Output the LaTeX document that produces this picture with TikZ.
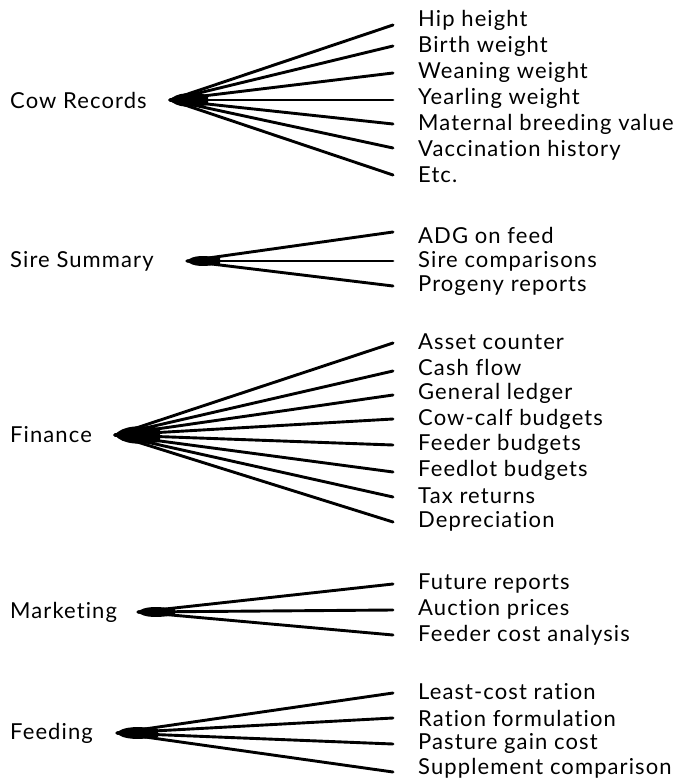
\documentclass[tikz,border=0pt]{standalone}
\usepackage{fontspec}
\setmainfont[LetterSpace=5,Ligatures=NoCommon]{Lato}
\begin{document}
\begin{tikzpicture}[x=1pt,y=-1pt,
  lab/.style={anchor=west,inner sep=0pt,font=\fontsize{22}{24}\selectfont},
  item/.style={anchor=west,inner sep=0pt,font=\fontsize{22}{24}\selectfont},
  spoke/.style={line width=2.9pt,line cap=round},
  hub/.style={fill=black}]
\useasboundingbox (0,0) rectangle (682,781);
% ---------- Cow Records
\node[lab] (cow) at (10,100) {Cow Records};
\coordinate (cowo) at (170,100);
\foreach \t/\y [count=\i] in {Hip height/20,Birth weight/46,Weaning weight/72,Yearling weight/98,Maternal breeding value/124,Vaccination history/150,Etc./175}
  \node[item] (cowi\i) at (418,\y) {\t};
\foreach \y [count=\i] in {25,46,73,100,124,148,175}
  \coordinate (cowe\i) at (393,\y);
\foreach \i in {1,...,7} \draw[spoke] (cowo) -- (cowe\i);
\fill[hub] (cowo) .. controls (176,92) and (192,92) .. (208,95) -- (208,105) .. controls (192,108) and (176,108) .. (cowo);
% ---------- Sire Summary
\node[lab] (sire) at (10,261) {Sire Summary};
\coordinate (sireo) at (187,261);
\foreach \t/\y [count=\i] in {ADG on feed/235,Sire comparisons/261,Progeny reports/286}
  \node[item] (sirei\i) at (418,\y) {\t};
\foreach \y [count=\i] in {232,261,286}
  \coordinate (siree\i) at (393,\y);
\foreach \i in {1,...,3} \draw[spoke] (sireo) -- (siree\i);
\fill[hub] (sireo) .. controls (192,255) and (205,255) .. (220,258) -- (220,264) .. controls (205,267) and (192,267) .. (sireo);
% ---------- Finance
\node[lab] (fin) at (10,435) {Finance};
\coordinate (fino) at (115,435);
\foreach \t/\y [count=\i] in {Asset counter/342,Cash flow/367,General ledger/393,Cow-calf budgets/419,Feeder budgets/444,Feedlot budgets/470,Tax returns/496,Depreciation/521}
  \node[item] (fini\i) at (418,\y) {\t};
\foreach \y [count=\i] in {343,371,395,419,445,472,497,522}
  \coordinate (fine\i) at (393,\y);
\foreach \i in {1,...,8} \draw[spoke] (fino) -- (fine\i);
\fill[hub] (fino) .. controls (122,425) and (142,425) .. (160,428) -- (160,442) .. controls (142,445) and (122,445) .. (fino);
% ---------- Marketing
\node[lab] (mkt) at (10,612) {Marketing};
\coordinate (mkto) at (138,612);
\foreach \t/\y [count=\i] in {Future reports/583,Auction prices/609,Feeder cost analysis/635}
  \node[item] (mkti\i) at (418,\y) {\t};
\foreach \y [count=\i] in {584,610,635}
  \coordinate (mkte\i) at (393,\y);
\foreach \i in {1,...,3} \draw[spoke] (mkto) -- (mkte\i);
\fill[hub] (mkto) .. controls (143,606) and (158,606) .. (175,609) -- (175,615) .. controls (158,618) and (143,618) .. (mkto);
% ---------- Feeding
\node[lab] (feed) at (10,733) {Feeding};
\coordinate (feedo) at (117,733);
\foreach \t/\y [count=\i] in {Least-cost ration/692,Ration formulation/718,Pasture gain cost/743,Supplement comparison/768}
  \node[item] (feedi\i) at (418,\y) {\t};
\foreach \y [count=\i] in {693,718,744,772}
  \coordinate (feede\i) at (393,\y);
\foreach \i in {1,...,4} \draw[spoke] (feedo) -- (feede\i);
\fill[hub] (feedo) .. controls (122,726) and (140,726) .. (158,729) -- (158,737) .. controls (140,740) and (122,740) .. (feedo);
\end{tikzpicture}
\end{document}
